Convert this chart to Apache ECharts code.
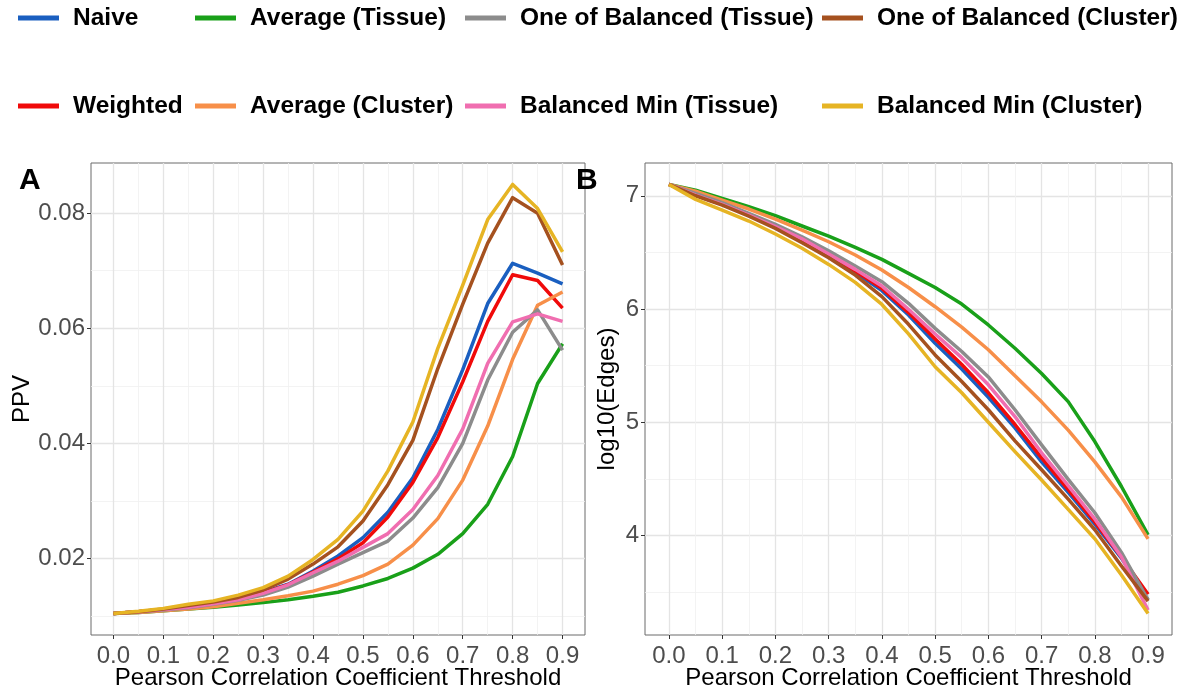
<!DOCTYPE html>
<html>
<head>
<meta charset="utf-8">
<script src="https://cdn.jsdelivr.net/npm/echarts@6/dist/echarts.min.js"></script>
<style>
  html, body { margin: 0; padding: 0; background: #ffffff; }
  #chart { width: 1183px; height: 690px; }
</style>
</head>
<body>
<div id="chart"></div>
<script>
// Correlation thresholds (x values shared by both panels)
const thresholds = [0, 0.05, 0.1, 0.15, 0.2, 0.25, 0.3, 0.35, 0.4, 0.45, 0.5, 0.55, 0.6, 0.65, 0.7, 0.75, 0.8, 0.85, 0.9];

// Method names, in legend (column-major) order
const methodNames = ['Naive', 'Weighted', 'Average (Tissue)', 'Average (Cluster)',
  'One of Balanced (Tissue)', 'Balanced Min (Tissue)', 'One of Balanced (Cluster)', 'Balanced Min (Cluster)'];
const methodColors = ['#1a5fc0', '#f00a0a', '#19a019', '#f78f49', '#8c8c8c', '#f06eb0', '#a5511f', '#e6b424'];

// Panel A: positive predictive value per threshold
const ppvNaive          = [0.0104, 0.0107, 0.0111, 0.0116, 0.0122, 0.0129, 0.0141, 0.0155, 0.0178, 0.0204, 0.0236, 0.0280, 0.0340, 0.0424, 0.0528, 0.0643, 0.0713, 0.0696, 0.0677];
const ppvWeighted       = [0.0104, 0.0107, 0.0111, 0.0116, 0.0122, 0.0129, 0.0140, 0.0154, 0.0176, 0.0199, 0.0227, 0.0272, 0.0332, 0.0410, 0.0507, 0.0612, 0.0693, 0.0683, 0.0635];
const ppvAvgTissue      = [0.0104, 0.0106, 0.0109, 0.0112, 0.0115, 0.0119, 0.0123, 0.0128, 0.0134, 0.0141, 0.0152, 0.0165, 0.0183, 0.0207, 0.0243, 0.0294, 0.0377, 0.0504, 0.0573];
const ppvAvgCluster     = [0.0104, 0.0106, 0.0109, 0.0112, 0.0116, 0.0122, 0.0128, 0.0135, 0.0143, 0.0155, 0.0170, 0.0190, 0.0223, 0.0269, 0.0336, 0.0430, 0.0546, 0.0640, 0.0663];
const ppvOneOfTissue    = [0.0104, 0.0107, 0.0110, 0.0114, 0.0120, 0.0127, 0.0136, 0.0150, 0.0169, 0.0190, 0.0210, 0.0230, 0.0270, 0.0323, 0.0400, 0.0510, 0.0593, 0.0632, 0.0562];
const ppvMinTissue      = [0.0104, 0.0107, 0.0111, 0.0115, 0.0121, 0.0128, 0.0139, 0.0154, 0.0175, 0.0195, 0.0219, 0.0243, 0.0285, 0.0344, 0.0425, 0.0539, 0.0611, 0.0625, 0.0612];
const ppvOneOfCluster   = [0.0104, 0.0107, 0.0112, 0.0118, 0.0124, 0.0132, 0.0145, 0.0164, 0.0190, 0.0220, 0.0265, 0.0328, 0.0405, 0.0530, 0.0642, 0.0748, 0.0827, 0.0800, 0.0710];
const ppvMinCluster     = [0.0104, 0.0108, 0.0113, 0.0120, 0.0126, 0.0136, 0.0149, 0.0169, 0.0198, 0.0233, 0.0282, 0.0352, 0.0437, 0.0565, 0.0675, 0.0789, 0.0850, 0.0808, 0.0733];

// Panel B: log10 of the number of network edges per threshold
const edgesNaive        = [7.10, 7.006, 6.924, 6.830, 6.720, 6.600, 6.477, 6.321, 6.162, 5.947, 5.697, 5.470, 5.220, 4.950, 4.650, 4.380, 4.100, 3.800, 3.430];
const edgesWeighted     = [7.10, 7.006, 6.924, 6.830, 6.727, 6.609, 6.485, 6.335, 6.182, 5.968, 5.735, 5.510, 5.260, 4.980, 4.685, 4.405, 4.120, 3.810, 3.480];
const edgesAvgTissue    = [7.10, 7.050, 6.977, 6.903, 6.824, 6.733, 6.644, 6.544, 6.438, 6.315, 6.190, 6.044, 5.859, 5.653, 5.430, 5.182, 4.829, 4.432, 4.005];
const edgesAvgCluster   = [7.10, 7.040, 6.962, 6.883, 6.794, 6.697, 6.594, 6.477, 6.344, 6.190, 6.020, 5.840, 5.640, 5.410, 5.180, 4.930, 4.650, 4.340, 3.970];
const edgesOneOfTissue  = [7.10, 7.021, 6.939, 6.844, 6.747, 6.638, 6.515, 6.380, 6.241, 6.050, 5.829, 5.625, 5.400, 5.110, 4.800, 4.495, 4.200, 3.850, 3.430];
const edgesMinTissue    = [7.10, 7.006, 6.924, 6.830, 6.727, 6.620, 6.485, 6.350, 6.203, 5.997, 5.779, 5.570, 5.330, 5.050, 4.730, 4.440, 4.145, 3.810, 3.340];
const edgesOneOfCluster = [7.10, 7.000, 6.918, 6.821, 6.712, 6.585, 6.453, 6.300, 6.109, 5.865, 5.594, 5.360, 5.110, 4.835, 4.580, 4.320, 4.050, 3.730, 3.420];
const edgesMinCluster   = [7.10, 6.968, 6.874, 6.777, 6.662, 6.536, 6.394, 6.235, 6.040, 5.780, 5.490, 5.260, 5.000, 4.740, 4.490, 4.230, 3.970, 3.650, 3.310];

const ppvSeries = [ppvNaive, ppvWeighted, ppvAvgTissue, ppvAvgCluster, ppvOneOfTissue, ppvMinTissue, ppvOneOfCluster, ppvMinCluster];
const edgeSeries = [edgesNaive, edgesWeighted, edgesAvgTissue, edgesAvgCluster, edgesOneOfTissue, edgesMinTissue, edgesOneOfCluster, edgesMinCluster];

// Tick positions
const xMajorTicks = [0, 0.1, 0.2, 0.3, 0.4, 0.5, 0.6, 0.7, 0.8, 0.9];
const xMinorTicks = [0.05, 0.15, 0.25, 0.35, 0.45, 0.55, 0.65, 0.75, 0.85];
const ppvMajorTicks = [0.02, 0.04, 0.06, 0.08];
const ppvMinorTicks = [0.01, 0.03, 0.05, 0.07];
const edgeMajorTicks = [4, 5, 6, 7];
const edgeMinorTicks = [3.5, 4.5, 5.5, 6.5];

const FONT = '"Liberation Sans", Arial, Helvetica, sans-serif';

// Continuous-scale limits padded by 5% of the data range on each side
function paddedRange(values) {
  const lo = Math.min(...values), hi = Math.max(...values);
  const pad = (hi - lo) * 0.05;
  return [lo - pad, hi + pad];
}
const xRange = paddedRange(thresholds);
const ppvRange = paddedRange(ppvSeries.flat());
const edgeRange = paddedRange(edgeSeries.flat());

const majorGrid = { show: true, lineStyle: { color: '#e4e4e4', width: 1.3 } };
const minorGrid = { show: true, lineStyle: { color: '#f0f0f0', width: 0.8 } };

function majorXAxis(gridIndex) {
  return {
    type: 'value', gridIndex, min: xRange[0], max: xRange[1], position: 'bottom',
    name: 'Pearson Correlation Coefficient Threshold', nameLocation: 'middle', nameGap: 31,
    nameMoveOverlap: false,
    nameTextStyle: { color: '#000', fontSize: 24, fontFamily: FONT },
    axisLine: { show: false, onZero: false },
    axisTick: { show: true, length: 4, customValues: xMajorTicks, lineStyle: { color: '#333', width: 1 } },
    axisLabel: { show: true, customValues: xMajorTicks, margin: 9, color: '#4d4d4d', fontSize: 24, fontFamily: FONT,
      formatter: v => v.toFixed(1) },
    splitLine: majorGrid
  };
}
function minorAxis(gridIndex, range, ticks, position) {
  return {
    type: 'value', gridIndex, min: range[0], max: range[1], position,
    axisLine: { show: false, onZero: false }, axisLabel: { show: false },
    axisTick: { show: false, customValues: ticks },
    splitLine: minorGrid
  };
}
function majorYAxis(gridIndex, range, ticks, name, nameGap, fmt) {
  return {
    type: 'value', gridIndex, min: range[0], max: range[1], position: 'left',
    name, nameLocation: 'middle', nameGap,
    nameTextStyle: { color: '#000', fontSize: 24, fontFamily: FONT },
    axisLine: { show: false, onZero: false },
    axisTick: { show: true, length: 4, customValues: ticks, lineStyle: { color: '#333', width: 1 } },
    axisLabel: { show: true, customValues: ticks, margin: 6, color: '#4d4d4d', fontSize: 24, fontFamily: FONT, formatter: fmt },
    splitLine: majorGrid
  };
}

const series = [];
methodNames.forEach((name, i) => {
  series.push({
    name, type: 'line', xAxisIndex: 0, yAxisIndex: 0,
    data: thresholds.map((t, k) => [t, ppvSeries[i][k]]),
    showSymbol: false, symbol: 'none', smooth: false,
    lineStyle: { color: methodColors[i], width: 3.5, join: 'round' },
    itemStyle: { color: methodColors[i] }, z: 3 + i
  });
  series.push({
    name, type: 'line', xAxisIndex: 2, yAxisIndex: 2,
    data: thresholds.map((t, k) => [t, edgeSeries[i][k]]),
    showSymbol: false, symbol: 'none', smooth: false,
    lineStyle: { color: methodColors[i], width: 3.5, join: 'round' },
    itemStyle: { color: methodColors[i] }, z: 3 + i
  });
});

// Legend: four columns of two entries each
const legendCols = [18, 195, 465, 822];
const legendRows = [4, 92];
const legends = methodNames.map((name, i) => ({
  data: [name],
  left: legendCols[Math.floor(i / 2)],
  top: legendRows[i % 2],
  orient: 'horizontal',
  padding: 0,
  icon: 'rect', itemWidth: 41, itemHeight: 5,
  selectedMode: false,
  textStyle: { color: '#000', fontSize: 24.5, fontWeight: 'bold', fontFamily: FONT, lineHeight: 28, padding: [0, 0, 0, 9] }
}));

const chart = echarts.init(document.getElementById('chart'), null, { renderer: 'canvas' });
chart.setOption({
  animation: false,
  backgroundColor: '#ffffff',
  legend: legends,
  grid: [
    { left: 91, right: 1183 - 585, top: 163, bottom: 55, show: true, borderColor: '#6b6b6b', borderWidth: 1,
      backgroundColor: 'transparent', containLabel: false, outerBoundsMode: 'none' },
    { left: 645, right: 1183 - 1172, top: 163, bottom: 55, show: true, borderColor: '#6b6b6b', borderWidth: 1,
      backgroundColor: 'transparent', containLabel: false, outerBoundsMode: 'none' }
  ],
  xAxis: [
    majorXAxis(0),
    minorAxis(0, xRange, xMinorTicks, 'top'),
    majorXAxis(1),
    minorAxis(1, xRange, xMinorTicks, 'top')
  ],
  yAxis: [
    majorYAxis(0, ppvRange, ppvMajorTicks, 'PPV', 55, v => v.toFixed(2)),
    minorAxis(0, ppvRange, ppvMinorTicks, 'right'),
    majorYAxis(1, edgeRange, edgeMajorTicks, 'log10(Edges)', 26, v => String(v)),
    minorAxis(1, edgeRange, edgeMinorTicks, 'right')
  ],
  graphic: [
    { type: 'text', left: 19, top: 166, style: { text: 'A', fill: '#000', font: 'bold 30px ' + FONT } },
    { type: 'text', left: 576, top: 166, style: { text: 'B', fill: '#000', font: 'bold 30px ' + FONT } }
  ],
  series
});
</script>
</body>
</html>
